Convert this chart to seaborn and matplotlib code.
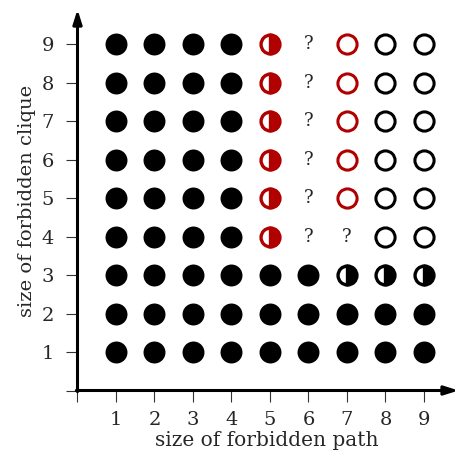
import numpy as np
import pandas as pd
import matplotlib
matplotlib.use("Agg")
import matplotlib.pyplot as plt
import seaborn as sns

# tamaños de camino (columnas) y de clique (filas)
caminos = [1, 2, 3, 4, 5, 6, 7, 8, 9]
cliques = [1, 2, 3, 4, 5, 6, 7, 8, 9]

# estado de cada celda, una cadena por fila de clique (1..9)
# F = lleno negro, H = medio negro, R = medio rojo, Q = ?, O = abierto rojo, E = abierto negro
estados = [
    "FFFFFFFFF",
    "FFFFFFFFF",
    "FFFFFFHHH",
    "FFFFRQQEE",
    "FFFFRQOEE",
    "FFFFRQOEE",
    "FFFFRQOEE",
    "FFFFRQOEE",
    "FFFFRQOEE",
]

rojo = "#b00000"

filas = []
for c, fila in zip(cliques, estados):
    for p, e in zip(caminos, fila):
        filas.append({"camino": p, "clique": c, "estado": e})
df = pd.DataFrame(filas)

sns.set_theme(style="white")
plt.rcParams["font.family"] = ["DejaVu Serif"]

fig = plt.figure(figsize=(4.6, 4.61), dpi=100)
ax = fig.add_axes([77.5 / 460, 70.5 / 461, 379.2 / 460, 379.2 / 461])

# puntos llenos
sns.scatterplot(data=df[df.estado == "F"], x="camino", y="clique", color="black",
                s=250, linewidth=0, ax=ax, legend=False, clip_on=False)

# medios llenos y abiertos
def dibujar(sub, color, estilo, ms=13.8, mew=2.2):
    ax.plot(sub.camino, sub.clique, "o", ls="none", ms=ms, mew=mew,
            fillstyle=estilo, mfc=color if estilo != "none" else "none",
            markerfacecoloralt="white", mec=color, clip_on=False)

dibujar(df[df.estado == "H"], "black", "right", ms=13.6, mew=2.4)
dibujar(df[df.estado == "R"], rojo, "right", ms=13.6, mew=2.4)
dibujar(df[df.estado == "O"], rojo, "none")
dibujar(df[df.estado == "E"], "black", "none")

for _, r in df[df.estado == "Q"].iterrows():
    ax.text(r.camino, r.clique, "?", ha="center", va="center", fontsize=13)

ax.set_xlim(0, 9.85)
ax.set_ylim(0, 9.85)
ax.set_xticks([0] + caminos)
ax.set_xticklabels([""] + [str(v) for v in caminos])
ax.set_yticks([0] + cliques)
ax.set_yticklabels([""] + [str(v) for v in cliques])
ax.tick_params(axis="both", direction="out", length=8, width=0.8, color="#333333",
               labelsize=14, bottom=True, left=True)
ax.tick_params(axis="x", pad=7)
ax.tick_params(axis="y", pad=9)

for s in ["top", "right", "left", "bottom"]:
    ax.spines[s].set_visible(False)

# ejes con flecha
flecha = dict(arrowstyle="-|>,head_length=0.7,head_width=0.22", color="black", lw=2.2,
              shrinkA=0, shrinkB=0)
ax.annotate("", xy=(9.9, 0), xytext=(-0.03, 0), arrowprops=flecha, annotation_clip=False)
ax.annotate("", xy=(0, 9.9), xytext=(0, -0.03), arrowprops=flecha, annotation_clip=False)

ax.set_xlabel("size of forbidden path", fontsize=14.5, labelpad=1)
ax.set_ylabel("size of forbidden clique", fontsize=14, labelpad=4)

fig.savefig("out.png", dpi=100)
